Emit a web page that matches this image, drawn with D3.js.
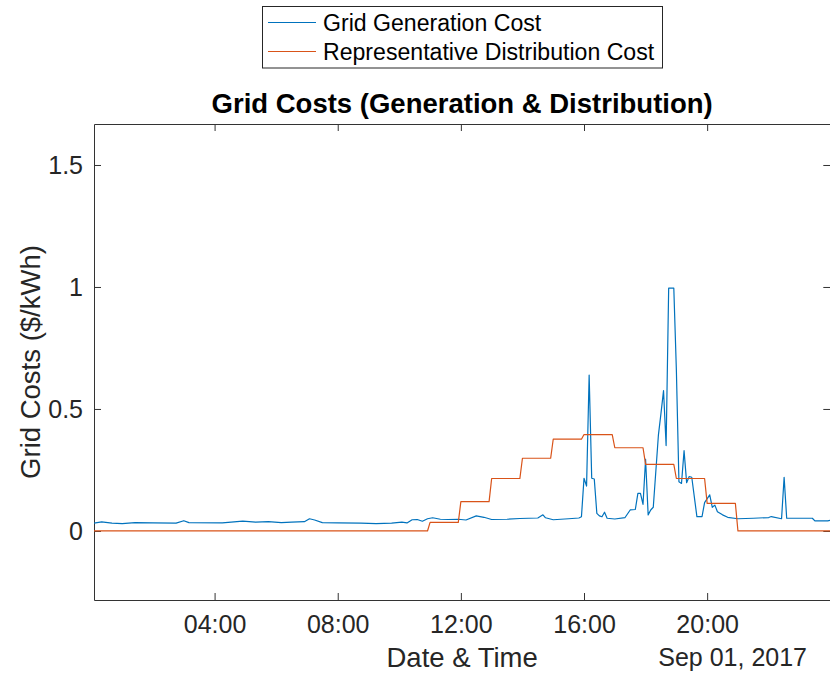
<!DOCTYPE html>
<html>
<head>
<meta charset="utf-8">
<script src="https://cdn.jsdelivr.net/npm/d3@7"></script>
<style>
	body { margin: 0; background: #fff; }
	svg { display: block; font-family: "Liberation Sans", Arial, Helvetica, sans-serif; }
	.axis path, .axis line { stroke: #333; }
	.axis text { fill: #262626; font-size: 25px; }
</style>
</head>
<body>
<svg id="viz"></svg>
<script>

	// the data (Sep 01, 2017)
	var genTimes = [
		"00:05","00:20","00:40","01:00","01:25","02:00","02:45","03:00","03:10","04:15",
		"04:55","05:20","05:45","06:10","06:30","06:55","07:05","07:15","07:30","08:00",
		"08:45","09:15","09:45","10:05","10:15","10:25","10:35","10:45","10:55","11:05",
		"11:20","11:35","11:55","12:10","12:30","12:45","13:00","13:30","13:55","14:30",
		"14:40","14:45","15:00","15:30","15:50","15:55","16:00","16:05","16:10","16:15",
		"16:20","16:25","16:30","16:35","16:40","16:45","17:00","17:20","17:30","17:40",
		"17:45","17:50","17:55","18:00","18:05","18:10","18:15","18:25","18:30","18:35",
		"18:40","18:45","18:55","19:00","19:05","19:10","19:15","19:20","19:25","19:30",
		"19:40","19:50","19:55","20:05","20:10","20:15","20:20","20:30","20:40","21:00",
		"21:30","22:00","22:05","22:25","22:30","22:35","23:00","23:25","23:30","23:55",
		"24:00"
	];
	var genCost = [
		0.032,0.037,0.032,0.030,0.034,0.033,0.032,0.042,0.034,0.033,
		0.040,0.036,0.038,0.034,0.036,0.038,0.050,0.045,0.034,0.033,
		0.032,0.030,0.032,0.036,0.033,0.046,0.047,0.040,0.050,0.054,
		0.048,0.047,0.048,0.045,0.062,0.056,0.047,0.048,0.051,0.053,
		0.066,0.054,0.046,0.050,0.053,0.058,0.216,0.184,0.639,0.216,
		0.213,0.072,0.062,0.058,0.077,0.052,0.049,0.055,0.086,0.088,
		0.154,0.154,0.109,0.294,0.066,0.086,0.097,0.393,0.482,0.575,
		0.350,0.995,0.995,0.660,0.202,0.195,0.329,0.198,0.223,0.220,
		0.059,0.059,0.116,0.148,0.097,0.106,0.079,0.066,0.056,0.050,
		0.052,0.055,0.059,0.050,0.220,0.052,0.052,0.052,0.041,0.041,
		0.044
	];

	// hourly distribution cost, hour 0 .. 23
	var distHours = d3.range(24);
	var distCost = [0,0,0,0,0,0,0,0,0,0,0,0.035,0.12,0.215,0.298,0.376,0.395,0.341,0.273,0.215,0.113,0,0,0];

	var xTickLabels = ["04:00","08:00","12:00","16:00","20:00"];
	var yTicks = [0, 0.5, 1, 1.5];
	var seriesNames = ["Grid Generation Cost", "Representative Distribution Cost"];
	var seriesColors = ["#0072BD", "#D95319"];



	// helpers
	function toDate(s) {
		var p = s.split(":");
		return new Date(2017, 8, 1, +p[0], +p[1]);
	}

	var genData = genTimes.map(function(t, i) {
		return {t: toDate(t), v: genCost[i]};
	});

	// each hourly value holds from hh:00 to hh:55
	var distData = [];
	distHours.forEach(function(hr, i) {
		distData.push({t: new Date(2017, 8, 1, hr, hr == 0 ? 5 : 0), v: distCost[i]});
		distData.push({t: new Date(2017, 8, 1, hr, 55), v: distCost[i]});
	});
	distData.push({t: new Date(2017, 8, 2, 0, 0), v: distCost[23]});



	// set up the svg
	var w = 830;
	var h = 674;
	var viz = d3.select("#viz").attr("width", w).attr("height", h);

	var pLeft = 94, pRight = 830.3, pTop = 124, pBottom = 600;

	var x = d3.scaleTime()
		.domain([new Date(2017, 8, 1, 0, 5), new Date(2017, 8, 2, 0, 0)])
		.range([pLeft, pRight]);
	var y = d3.scaleLinear()
		.domain([-0.283, 1.668])
		.range([pBottom, pTop]);

	var xTicks = xTickLabels.map(toDate);
	var fmt = d3.timeFormat("%H:%M");



	// axes, ticks point inward
	var gx = viz.append("g").attr("class", "axis")
		.attr("transform", "translate(0," + pBottom + ")")
		.call(d3.axisBottom(x).tickValues(xTicks).tickFormat(fmt).tickSizeInner(-7).tickSizeOuter(0));
	gx.selectAll("text").attr("dy", null).attr("y", 33);

	viz.append("g").attr("class", "axis")
		.attr("transform", "translate(0," + pTop + ")")
		.call(d3.axisTop(x).tickValues(xTicks).tickFormat("").tickSizeInner(-7).tickSizeOuter(0));

	var gy = viz.append("g").attr("class", "axis")
		.attr("transform", "translate(" + pLeft + ",0)")
		.call(d3.axisLeft(y).tickValues(yTicks).tickFormat(d3.format("")).tickSizeInner(-7).tickSizeOuter(0));
	gy.selectAll("text").attr("x", -11).attr("dy", "0.34em");

	viz.append("g").attr("class", "axis")
		.attr("transform", "translate(" + pRight + ",0)")
		.call(d3.axisRight(y).tickValues(yTicks).tickFormat("").tickSizeInner(-7).tickSizeOuter(0));

	viz.selectAll(".axis .domain").attr("stroke-width", 1);



	// draw the lines
	var line = d3.line()
		.x(function(d) { return x(d.t); })
		.y(function(d) { return y(d.v); });

	var plot = viz.append("g");
	plot.append("path")
		.datum(genData)
		.attr("d", line)
		.attr("fill", "none")
		.attr("stroke", seriesColors[0])
		.attr("stroke-width", 1.2)
		.attr("stroke-linejoin", "round");
	plot.append("path")
		.datum(distData)
		.attr("d", line)
		.attr("fill", "none")
		.attr("stroke", seriesColors[1])
		.attr("stroke-width", 1.2)
		.attr("stroke-linejoin", "round");



	// titles and labels
	viz.append("text")
		.text("Grid Costs (Generation & Distribution)")
		.attr("x", (pLeft + pRight) / 2)
		.attr("y", 113)
		.attr("text-anchor", "middle")
		.attr("font-size", 27.5)
		.attr("font-weight", "bold")
		.attr("fill", "#000");

	viz.append("text")
		.text("Date & Time")
		.attr("x", (pLeft + pRight) / 2)
		.attr("y", 667)
		.attr("text-anchor", "middle")
		.attr("font-size", 27.5)
		.attr("fill", "#262626");

	viz.append("text")
		.text("Sep 01, 2017")
		.attr("x", 807)
		.attr("y", 666)
		.attr("text-anchor", "end")
		.attr("font-size", 25)
		.attr("fill", "#262626");

	viz.append("text")
		.text("Grid Costs ($/kWh)")
		.attr("transform", "translate(40," + ((pTop + pBottom) / 2) + ") rotate(-90)")
		.attr("text-anchor", "middle")
		.attr("font-size", 27.5)
		.attr("fill", "#262626");



	// legend
	var legend = viz.append("g");
	legend.append("rect")
		.attr("x", 262.5).attr("y", 6.5)
		.attr("width", 400).attr("height", 61.5)
		.attr("fill", "#fff")
		.attr("stroke", "#262626")
		.attr("stroke-width", 1);

	var items = legend.selectAll("g.item")
		.data(seriesNames)
		.enter()
		.append("g")
		.attr("class", "item")
		.attr("transform", function(d, i) { return "translate(0," + (i * 29) + ")"; });
	items.append("line")
		.attr("x1", 268).attr("x2", 316)
		.attr("y1", 22.5).attr("y2", 22.5)
		.attr("stroke", function(d, i) { return seriesColors[i]; })
		.attr("stroke-width", 1.2);
	items.append("text")
		.text(function(d) { return d; })
		.attr("x", 323)
		.attr("y", 31)
		.attr("font-size", 23.1)
		.attr("fill", "#000");

</script>
</body>
</html>
